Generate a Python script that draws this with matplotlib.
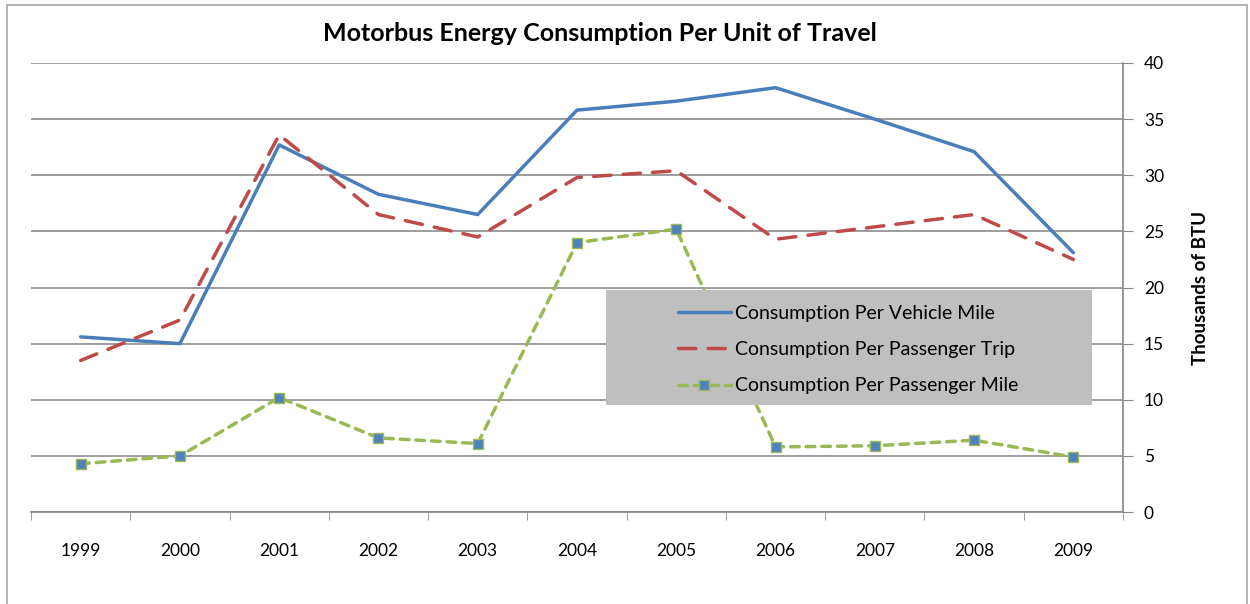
import matplotlib
matplotlib.use("Agg")
import matplotlib.pyplot as plt
from matplotlib.patches import Rectangle

# 資料
years = ["1999", "2000", "2001", "2002", "2003", "2004", "2005", "2006", "2007", "2008", "2009"]
per_vehicle_mile = [15.6, 15.0, 32.7, 28.3, 26.5, 35.8, 36.6, 37.8, 35.0, 32.1, 23.1]
per_passenger_trip = [13.5, 17.1, 33.6, 26.5, 24.5, 29.8, 30.4, 24.3, 25.4, 26.5, 22.5]
per_passenger_mile = [4.3, 5.0, 10.2, 6.6, 6.1, 24.0, 25.2, 5.8, 5.9, 6.4, 4.9]

plt.rcParams["font.family"] = ["Lato", "DejaVu Sans"]

fig = plt.figure(figsize=(12.5, 6.04), dpi=100)
ax = fig.add_axes([0.0248, 0.1523, 0.8736, 0.7434])

x = list(range(len(years)))
ax.plot(x, per_vehicle_mile, color="#4A7EBB", lw=2.5, solid_capstyle="round",
        label="Consumption Per Vehicle Mile")
ax.plot(x, per_passenger_trip, color="#BE4B48", lw=2.5, dashes=(5, 3.5),
        dash_capstyle="round", label="Consumption Per Passenger Trip")
ax.plot(x, per_passenger_mile, color="#98B954", lw=2.5, dashes=(2.5, 2),
        dash_capstyle="round", marker="s", ms=6.5, mfc="#4F81BD", mec="#98B954",
        mew=1, label="Consumption Per Passenger Mile")

ax.set_xlim(-0.5, len(years) - 0.5)
ax.set_ylim(0, 40)
ax.set_yticks(range(0, 41, 5))
ax.yaxis.tick_right()
ax.yaxis.set_label_position("right")
ax.set_ylabel("Thousands of BTU", fontsize=13.5, fontweight="bold", labelpad=20)
ax.set_xticks(x)
ax.set_xticklabels(years)
ax.set_xticks([i - 0.5 for i in range(len(years) + 1)], minor=True)
ax.tick_params(axis="x", which="major", length=0, pad=22, labelsize=12.5)
ax.tick_params(axis="x", which="minor", length=6, color="#868686", direction="out")
ax.tick_params(axis="y", length=7, color="#868686", pad=8, labelsize=12.5)

ax.grid(axis="y", color="#8C8C8C", lw=1.2)
ax.set_axisbelow(True)
for s in ["top", "left"]:
    ax.spines[s].set_visible(False)
for s in ["bottom", "right"]:
    ax.spines[s].set_color("#868686")
    ax.spines[s].set_linewidth(1.2)

# 圖例背景（蓋在線條上方）
ax.add_patch(Rectangle((0.527, 0.238), 0.445, 0.256, transform=ax.transAxes,
                       facecolor="#BFBFBF", edgecolor="none", zorder=4.5))
leg = ax.legend(loc="center left", bbox_to_anchor=(0.5925, 0.362),
                fontsize=14, frameon=False, handlelength=2.7,
                labelspacing=1.0, borderaxespad=0, handletextpad=0.25,
                borderpad=0)

fig.text(0.48, 0.945, "Motorbus Energy Consumption Per Unit of Travel",
         ha="center", va="center", fontsize=18, fontweight="bold")

fig.patches.append(Rectangle((0.0056, -0.05), 0.992, 1.042, transform=fig.transFigure,
                             fill=False, edgecolor="#A6A6A6", lw=1.2))

fig.savefig("out.png", dpi=100)
